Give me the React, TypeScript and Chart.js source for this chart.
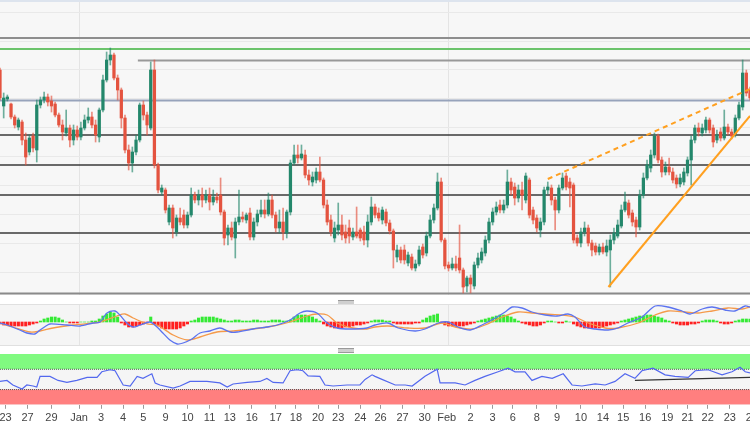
import React, { useEffect, useRef } from 'react';
import { Chart, registerables } from 'chart.js';
Chart.register(...registerables);

// ---------- DATA ----------
const opens = [230,194,201,196,183,173,178,160,148,164,150,195,200,203,199,196,185,175,167,172,160,170,163,172,180,183,175,163,190,220,240,245,222,210,182,150,137,148,160,195,185,172,230,135,108,110,78,92,68,82,85,75,85,105,100,105,100,105,98,103,105,88,65,72,62,78,83,80,87,63,78,86,90,86,100,85,72,78,67,88,137,145,142,145,125,118,120,128,120,95,80,62,70,75,68,72,63,68,70,68,60,78,93,87,80,88,77,69,43,50,50,37,43,32,36,53,47,64,80,92,118,60,35,32,36,42,30,14,22,14,35,40,47,60,78,88,95,90,95,118,113,102,110,100,120,90,82,70,78,110,112,100,90,112,124,118,115,62,57,68,72,57,54,48,53,48,50,60,64,74,90,97,87,80,73,105,122,132,145,164,140,128,133,128,122,116,118,127,140,160,172,167,170,180,172,160,168,162,173,168,166,182,193,227,210];
const highs = [232,207,205,197,185,182,180,167,165,167,200,203,208,206,204,198,187,180,190,175,175,174,178,185,192,188,180,192,225,248,252,247,225,212,185,155,153,165,197,199,188,238,240,137,115,112,95,95,85,92,90,88,112,108,110,112,110,112,110,107,122,90,75,78,82,110,88,87,92,82,90,100,100,107,105,88,90,92,90,140,155,155,155,150,130,128,132,143,122,100,85,78,97,85,75,80,72,93,72,74,85,103,96,92,93,91,80,71,55,53,55,48,46,40,54,56,68,85,96,127,122,62,38,42,44,75,32,24,25,38,47,52,64,82,92,98,100,100,130,122,117,115,118,127,122,93,85,82,113,118,115,103,115,127,127,122,117,65,72,78,75,60,57,56,57,60,65,72,80,95,108,100,90,83,110,127,140,150,167,166,143,138,142,132,125,126,132,143,164,175,177,176,183,182,175,170,172,190,176,171,185,198,240,230,213];
const lows = [200,182,199,181,172,170,155,135,145,148,138,192,197,194,188,183,173,160,164,153,155,160,160,170,177,172,158,158,188,218,235,220,200,172,147,130,128,145,158,180,165,170,132,107,105,87,75,62,64,75,72,72,83,97,95,93,97,90,95,97,85,55,55,60,42,75,78,77,60,60,74,83,82,84,82,68,67,60,62,85,135,137,140,122,115,114,117,118,92,75,64,58,65,60,57,57,60,62,59,55,53,75,82,79,76,74,66,32,38,37,36,34,30,29,34,42,44,62,77,90,58,31,29,30,29,27,7,8,7,11,32,37,44,57,75,85,87,87,92,105,95,98,90,97,82,76,68,63,75,106,95,70,87,110,110,93,57,54,53,64,54,44,45,45,46,44,13,56,62,72,88,82,74,63,70,102,120,128,142,137,123,125,125,117,112,113,115,124,115,157,164,164,167,167,153,157,159,160,165,161,163,180,190,204,200];
const closes = [202,202,203,183,175,180,160,143,162,152,195,200,203,198,194,185,175,168,172,160,170,163,172,180,183,175,165,190,220,240,245,222,210,182,150,137,148,160,195,185,175,230,135,110,112,90,92,72,82,78,75,85,105,100,105,100,105,98,103,100,88,62,72,63,78,83,81,85,63,78,86,90,86,100,85,72,78,68,88,137,145,142,146,125,120,123,128,120,95,78,68,72,75,65,62,64,68,64,62,60,78,93,85,82,90,77,69,50,50,40,40,45,32,36,50,45,64,80,92,118,60,34,32,36,32,30,13,22,16,35,42,48,60,78,88,93,90,95,118,110,102,110,105,124,85,80,72,78,110,113,100,90,112,122,113,112,60,57,68,72,57,50,48,53,48,54,60,67,75,90,98,85,78,73,105,122,135,145,164,140,128,133,128,120,116,122,128,140,160,172,168,172,180,170,158,165,162,173,168,164,182,195,227,207,202];

// horizontal levels (price)
const resistanceLevels = [262, 251];
const rangeTopLevel = 239.5;
const rangeTopStart = 37.5;
const pivotLevel = 199.5;
const supportLevels = [165, 135, 105, 67];
const floorLevel = 6.5;
const priceGrid = [28, 57, 86, 115, 144, 173, 202, 231, 259, 288];

// trend lines [candle index, price]
const dashedChannel: [number, number][] = [[149, 121], [204, 211]];
const risingSupport: [number, number][] = [[165.5, 13], [204, 184]];

// MACD
const macdLine: [number, number][] = [[0,-1],[1.9,-3],[5.4,-8],[7.3,-11],[9.5,-12],[10.9,-8],[12.5,-4],[13.6,-2],[18.2,-3],[21.8,-4],[25.3,-1],[27.2,0],[29.1,9],[31.3,11],[32.6,7],[34.5,-1],[36.2,-5],[38.1,-3],[40.8,0],[42.7,-5],[44.3,-11],[46.2,-18],[48.2,-22],[49.8,-21],[52.2,-17],[54.4,-11],[57.1,-9],[59.8,-6],[62.6,-10],[64.5,-10],[68.8,-7],[72.6,-5],[75.4,-3],[78.9,2],[81.6,9],[83.5,11],[86.2,9],[89,-1],[91.7,-6],[95.2,-7],[99.8,-6],[102,-3],[105.5,-1],[108.3,-6],[112.9,-9],[115.6,-7],[119.2,-1],[121.9,0],[124.6,-5],[127.9,-8],[131.1,-3],[134.7,4],[137.4,10],[139.3,15],[142,14],[144.7,10],[148.3,7],[151.5,6],[154.5,8],[156.4,5],[159.1,-5],[161.9,-7],[165.4,-8],[168.1,-6],[170.8,-1],[174.6,5],[178.2,16],[181.7,15],[185.5,11],[187.7,8],[191,13],[193.7,15],[197.2,12],[199.9,11],[202.7,16],[204,15]];
const signalLine: [number, number][] = [[0,-1],[3.5,-5],[8.2,-10],[10.9,-9],[14.4,-6],[19.9,-3],[27.2,0],[31.8,6],[34,8],[36.2,4],[40,-2],[42.7,-3],[47.1,-13],[50.9,-18],[54.4,-15],[59,-10],[63.4,-9],[68.8,-7],[74.3,-4],[78.9,0],[83.5,6],[86.2,8],[89,7],[91.7,-1],[96,-6],[99.8,-7],[102,-5],[105.5,-4],[111,-6],[115.6,-6],[120.2,-1],[123.8,-5],[128.4,-7],[131.9,-3],[136.6,5],[140.9,10],[144.7,9],[148.3,8],[152.9,7],[156.4,5],[160,-1],[164.6,-6],[168.1,-6],[173.6,-1],[178.2,7],[181.7,11],[186.3,10],[189.9,9],[193.7,11],[198,14],[201.9,13],[204,15]];
const macdHist = [-2,-3,-3,-4,-4,-4,-4,-4,-3,-2,-1, 1,3,4,5,5,4,2, 0,-1,-1,-1,0,0,0,1,1, 3,6,8,10,9,5, -1,-3,-5,-5,-4,-3,-2,-1, 5, -2,-4,-6,-7,-7,-7,-7,-6,-4,-2, 1,2,4,5,5,5,5,4,3,2, 1,1,2,2,1,1,1,2,2,1,1,1,2,2,2,1,1, 2,5,7,7,7,6,5,3,1, -2,-4,-5,-6,-6,-6,-5,-5,-4,-3,-3,-2,-1, 1,2,2,2,1,1, -1,-2,-2,-2,-2,-2,-1,-1, 2,4,6,7,8, -1,-3,-4,-4,-4,-4,-4,-3,-2,-1, 1,2,3,4,5,6,7,7,6,5,3,1, -1,-2,-3,-4,-4,-3,-1, 1,1,0,-1,-1,1,0, -2,-4,-5,-6,-6,-6,-6,-6,-5,-4,-3,-2,-1, 1,2,3,4,5,6,6,7,7,6,5,4,2,1, -1,-2,-3,-3,-3,-2,-2,-1, 1,2,2,2,1, -1,-2,-2,-1, 1,2,3,3,3];

// RSI
const rsiLine: [number, number][] = [[0,46],[1.9,48],[3.5,39],[6,31],[7.3,39],[9,37],[10,35],[10.9,56],[13.6,56],[15.8,48],[18.2,44],[20.9,48],[23.7,54],[26.4,54],[27.7,65],[29.9,69],[31.3,67],[33.5,39],[35.4,37],[37.3,56],[38.9,52],[41.3,61],[42.2,43],[43.5,39],[47.1,33],[49,37],[51.7,46],[56.3,46],[59.8,43],[61.8,35],[63.4,41],[67.2,44],[70.7,46],[72.6,52],[74.3,44],[77,43],[78.9,67],[80.8,69],[82.4,67],[83.8,57],[87,56],[88.4,39],[90.6,37],[94.4,39],[97.9,39],[99.3,50],[101.2,59],[102,56],[103.9,50],[107.5,39],[110.2,39],[112.1,37],[115.6,56],[118.9,70],[119.7,43],[123.8,43],[126.5,39],[129.2,48],[131.9,56],[135.5,65],[138.2,72],[140.1,65],[142.8,65],[144.7,48],[147.4,56],[150.2,52],[153.2,61],[155.6,39],[158.3,37],[161.9,41],[164.6,39],[167.3,46],[170,61],[172.7,52],[174.6,67],[177.6,72],[180.9,59],[183.6,56],[187.2,54],[189.1,67],[192.6,69],[196.4,59],[199.1,65],[201.3,74],[202.7,65],[204,63]];
const rsiBands = [70, 30];
const rsiTrend: [number, number][] = [[172.7, 48], [204, 54]];

// time axis
const tickLabels = ['23','27','29','Jan','3','4','5','9','10','11','13','16','17','18','20','23','24','26','27','30','Feb','2','3','6','8','9','10','14','15','16','19','21','22','23','24'];
const tickIndex = [1.5,7.5,14,21.5,27.5,33.5,39,45,51,57,62.5,68.5,75,80.5,86.5,92,98,103.5,109.5,115.5,121.5,128,134,139.5,146,151.5,158,164,169.5,175.5,181.5,187,192.5,198.5,204.5];
const monthStarts = [21.5, 122];

// ---------- HELPERS ----------
const LAST = opens.length - 1;
const UP = '#23876b';
const DOWN = '#e4533f';
const UP_W = 'rgba(35,135,107,0.65)';
const DOWN_W = 'rgba(228,83,63,0.65)';
const FONT = "'Liberation Sans', Arial, sans-serif";

const pts = (arr: [number, number][]) => arr.map(([x, y]) => ({ x, y }));
const flat = (y: number, from = 0) => [{ x: from, y }, { x: LAST, y }];

const bgPlugin = (color: string) => ({
  id: 'panelBg',
  beforeDraw(chart: any) {
    const { ctx, chartArea: a } = chart;
    if (!a) return;
    ctx.save();
    ctx.fillStyle = color;
    ctx.fillRect(a.left, a.top, a.right - a.left, a.bottom - a.top);
    ctx.restore();
  },
});

const levelDs = (data: any, color: string, width: number, order = 5) => ({
  type: 'line' as const,
  data,
  borderColor: color,
  borderWidth: width,
  pointRadius: 0,
  tension: 0,
  fill: false,
  order,
});

const hiddenX = (grid: boolean) => ({
  type: 'linear' as const,
  min: 0,
  max: LAST,
  offset: false,
  display: true,
  ticks: { display: false },
  border: { display: false },
  grid: { display: grid, drawTicks: false, color: '#e4e4e4', offset: false },
  afterBuildTicks: (s: any) => {
    s.ticks = monthStarts.map((v) => ({ value: v }));
  },
});

export default function App() {
  const mainRef = useRef<HTMLCanvasElement>(null);
  const macdRef = useRef<HTMLCanvasElement>(null);
  const rsiRef = useRef<HTMLCanvasElement>(null);

  useEffect(() => {
    document.body.style.margin = '0';
    const charts: Chart[] = [];
    const idx = opens.map((_, i) => i);
    const isUp = idx.map((i) => closes[i] >= opens[i]);

    const bodies = idx.map((i) => ({ x: i, y: [Math.min(opens[i], closes[i]), Math.max(opens[i], closes[i])] }));
    const wicks = idx.map((i) => ({ x: i, y: [lows[i], highs[i]] }));

    if (mainRef.current) {
      charts.push(
        new Chart(mainRef.current, {
          type: 'bar',
          data: {
            datasets: [
              levelDs(flat(resistanceLevels[0]), '#8e8e8e', 2),
              levelDs(flat(resistanceLevels[1]), '#6cc46c', 2),
              levelDs(flat(rangeTopLevel, rangeTopStart), '#999999', 2),
              levelDs(flat(pivotLevel), '#97a3bb', 2),
              ...supportLevels.map((l) => levelDs(flat(l), '#3a3a3a', 1.3)),
              levelDs(flat(floorLevel), '#8a8a8a', 2),
              {
                type: 'bar' as const,
                data: wicks as any,
                backgroundColor: idx.map((i) => (isUp[i] ? UP_W : DOWN_W)),
                barThickness: 1,
                grouped: false,
                minBarLength: 1,
                order: 2,
              },
              {
                type: 'bar' as const,
                data: bodies as any,
                backgroundColor: idx.map((i) => (isUp[i] ? UP : DOWN)),
                barThickness: 2.6,
                grouped: false,
                minBarLength: 1,
                order: 1,
              },
              {
                ...levelDs(pts(dashedChannel), '#ffa020', 2, 0),
                borderDash: [5, 4],
              },
              levelDs(pts(risingSupport), '#ffa020', 2, 0),
            ] as any,
          },
          options: {
            animation: false,
            responsive: false,
            devicePixelRatio: 1,
            layout: { padding: 0 },
            plugins: { legend: { display: false }, tooltip: { enabled: false } },
            scales: {
              x: hiddenX(true) as any,
              y: {
                min: 5,
                max: 300,
                display: true,
                ticks: { display: false },
                border: { display: false },
                grid: { drawTicks: false, color: '#e9e9e9' },
                afterBuildTicks: (s: any) => {
                  s.ticks = priceGrid.map((v) => ({ value: v }));
                },
              },
            },
          },
          plugins: [bgPlugin('#f7f7f7')],
        })
      );
    }

    if (macdRef.current) {
      charts.push(
        new Chart(macdRef.current, {
          type: 'bar',
          data: {
            datasets: [
              {
                type: 'line' as const,
                data: pts(macdLine),
                borderColor: '#5b73f0',
                borderWidth: 1.3,
                pointRadius: 0,
                tension: 0.3,
                order: 0,
              },
              {
                type: 'line' as const,
                data: pts(signalLine),
                borderColor: '#f59a4a',
                borderWidth: 1.3,
                pointRadius: 0,
                tension: 0.3,
                order: 1,
              },
              {
                type: 'bar' as const,
                data: macdHist.map((v, i) => ({ x: i, y: v })),
                backgroundColor: macdHist.map((v) => (v >= 0 ? '#34ea34' : '#ff2020')),
                barThickness: 2.4,
                grouped: false,
                order: 2,
              },
            ] as any,
          },
          options: {
            animation: false,
            responsive: false,
            devicePixelRatio: 1,
            layout: { padding: 0 },
            plugins: { legend: { display: false }, tooltip: { enabled: false } },
            scales: {
              x: hiddenX(true) as any,
              y: { min: -23, max: 17, display: false },
            },
          },
          plugins: [bgPlugin('#f5f5f5')],
        })
      );
    }

    if (rsiRef.current) {
      charts.push(
        new Chart(rsiRef.current, {
          type: 'line',
          data: {
            datasets: [
              {
                data: pts(rsiLine),
                borderColor: '#5368ee',
                borderWidth: 1.2,
                pointRadius: 0,
                tension: 0,
                order: 0,
              },
              {
                data: pts(rsiTrend),
                borderColor: '#333333',
                borderWidth: 1.2,
                pointRadius: 0,
                order: 0,
              },
              {
                data: flat(rsiBands[0]),
                borderColor: '#555555',
                borderWidth: 1,
                borderDash: [1, 1],
                backgroundColor: '#80fa80',
                fill: 'end',
                pointRadius: 0,
                order: 3,
              },
              {
                data: flat(rsiBands[1]),
                borderColor: '#555555',
                borderWidth: 1,
                borderDash: [1, 1],
                backgroundColor: '#ff7f7f',
                fill: 'start',
                pointRadius: 0,
                order: 3,
              },
            ] as any,
          },
          options: {
            animation: false,
            responsive: false,
            devicePixelRatio: 1,
            layout: { padding: 0 },
            plugins: { legend: { display: false }, tooltip: { enabled: false } },
            scales: {
              x: {
                type: 'linear',
                min: 0,
                max: LAST,
                offset: false,
                border: { display: false },
                grid: {
                  drawOnChartArea: false,
                  drawTicks: true,
                  tickLength: 4,
                  tickColor: '#9a9a9a',
                  offset: false,
                },
                ticks: {
                  autoSkip: false,
                  maxRotation: 0,
                  padding: 3,
                  color: '#444',
                  font: { family: FONT, size: 11 },
                  callback: (v: any) => {
                    const k = tickIndex.indexOf(Number(v));
                    return k >= 0 ? tickLabels[k] : '';
                  },
                },
                afterBuildTicks: (s: any) => {
                  s.ticks = tickIndex.map((v) => ({ value: v }));
                },
                afterFit: (s: any) => {
                  s.paddingLeft = 0;
                  s.paddingRight = 0;
                },
              } as any,
              y: { min: 0, max: 100, display: false },
            },
          },
          plugins: [bgPlugin('#f5f5f5')],
        })
      );
    }

    return () => charts.forEach((c) => c.destroy());
  }, []);

  const handle = (top: number) => (
    <div
      style={{
        position: 'absolute',
        left: 338,
        top,
        width: 16,
        height: 3,
        background: '#cfcfcf',
        borderTop: '1px solid #9a9a9a',
        borderBottom: '1px solid #9a9a9a',
      }}
    />
  );

  return (
    <div style={{ position: 'relative', width: 750, height: 430, background: '#ffffff', overflow: 'hidden' }}>
      <canvas ref={mainRef} width={750} height={295} style={{ position: 'absolute', left: 0, top: 0, display: 'block' }} />
      <div style={{ position: 'absolute', left: 0, top: 0, width: 750, height: 2, background: '#dde4ee' }} />
      {handle(300)}
      <div
        style={{
          position: 'absolute',
          left: 0,
          top: 304,
          width: 750,
          height: 40,
          borderTop: '1px solid #e0e0e0',
          borderBottom: '1px solid #e0e0e0',
        }}
      >
        <canvas ref={macdRef} width={750} height={40} style={{ display: 'block' }} />
      </div>
      {handle(348)}
      <canvas ref={rsiRef} width={750} height={74} style={{ position: 'absolute', left: 0, top: 354, display: 'block' }} />
    </div>
  );
}
